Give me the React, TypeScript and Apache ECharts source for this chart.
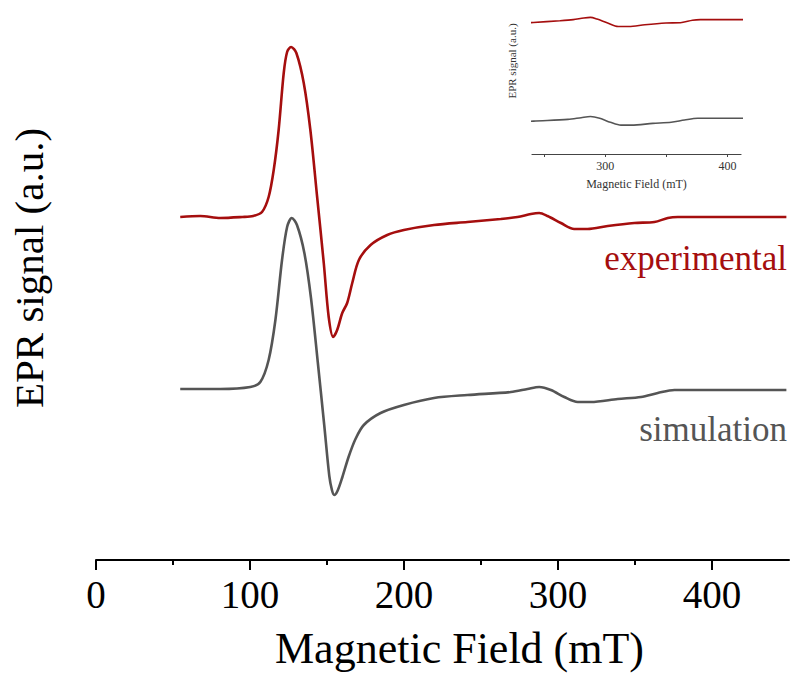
import React, { useEffect, useRef } from "react";
import * as echarts from "echarts";

// Experimental EPR spectrum (field in mT, signal in a.u., stacked offset included)
const fieldExp = [54.7, 67.7, 80.7, 95.0, 102.1, 107.8, 112.1, 115.4, 118.6, 121.9, 124.1, 126.7, 130.1, 134.9, 139.2, 143.6, 147.9, 151.1, 154.0, 156.6, 159.9, 163.1, 166.4, 170.7, 178.3, 189.1, 199.9, 219.5, 241.2, 262.8, 273.7, 282.4, 287.8, 293.2, 301.9, 310.5, 319.2, 332.3, 349.6, 362.6, 371.3, 377.8, 414.6, 448.3];
const signalExp = [0.0, 0.01, -0.01, 0.0, 0.01, 0.05, 0.2, 0.47, 0.87, 1.44, 1.65, 1.7, 1.64, 1.34, 0.87, 0.2, -0.46, -1.0, -1.2, -1.13, -0.96, -0.86, -0.66, -0.43, -0.28, -0.18, -0.13, -0.08, -0.05, -0.02, 0.0, 0.03, 0.04, 0.01, -0.06, -0.12, -0.12, -0.09, -0.06, -0.05, -0.01, 0.0, 0.0, 0.0];

// Simulated EPR spectrum
const fieldSim = [54.7, 80.7, 100.2, 106.7, 112.1, 116.5, 120.8, 124.1, 127.1, 130.5, 135.3, 139.6, 144.0, 148.2, 151.5, 153.2, 154.7, 156.8, 160.0, 164.0, 168.5, 173.9, 184.8, 199.9, 219.5, 241.2, 269.4, 280.2, 287.8, 295.4, 304.1, 312.8, 321.4, 338.8, 353.9, 364.8, 375.6, 393.1, 448.3];
const signalSim = [-1.72, -1.72, -1.7, -1.65, -1.43, -1.03, -0.43, -0.1, -0.01, -0.08, -0.36, -0.81, -1.45, -2.08, -2.59, -2.73, -2.78, -2.74, -2.6, -2.4, -2.22, -2.08, -1.96, -1.88, -1.81, -1.78, -1.75, -1.72, -1.7, -1.73, -1.8, -1.85, -1.85, -1.82, -1.8, -1.76, -1.73, -1.73, -1.73];

const mainMajorTicks = [0, 100, 200, 300, 400];
const mainMinorTicks = [50, 150, 250, 350];
const insetTicks = [250, 300, 350, 400];
const insetLabels = [300, 400];

const RED = "#A50E0E";
const GRAY = "#555555";
const FONT = "'Liberation Serif', 'Times New Roman', serif";

export default function App() {
  const ref = useRef<HTMLDivElement>(null);
  useEffect(() => {
    document.body.style.margin = "0";
    if (!ref.current) return;
    const chart = echarts.init(ref.current, undefined, { renderer: "svg" });
    const exp = fieldExp.map((x, i) => [x, signalExp[i]]);
    const sim = fieldSim.map((x, i) => [x, signalSim[i]]);
    chart.setOption({
      animation: false,
      backgroundColor: "#ffffff",
      textStyle: { fontFamily: FONT },
      grid: [
        { left: 96, right: 2, top: 30, bottom: 121 },
        { left: 532, width: 209, top: 5, bottom: 527 },
      ],
      xAxis: [
        {
          type: "value",
          gridIndex: 0,
          position: "bottom",
          min: 0,
          max: 450,
          interval: 100,
          splitLine: { show: false },
          axisLine: { show: true, onZero: false, lineStyle: { color: "#000", width: 2 } },
          axisTick: { show: true, customValues: mainMajorTicks, length: 10, lineStyle: { color: "#000", width: 2 } },
          axisLabel: { customValues: mainMajorTicks, fontSize: 39, color: "#000", margin: 15, fontFamily: FONT },
          name: "Magnetic Field (mT)",
          nameLocation: "middle",
          nameGap: 66,
          nameTextStyle: { fontSize: 44, color: "#000", fontFamily: FONT, padding: [0, 0, 0, 34] },
        },
        {
          type: "value",
          gridIndex: 0,
          position: "bottom",
          min: 0,
          max: 450,
          interval: 50,
          splitLine: { show: false },
          axisLine: { show: false, onZero: false },
          axisTick: { show: true, customValues: mainMinorTicks, length: 5, lineStyle: { color: "#000", width: 2 } },
          axisLabel: { show: false },
        },
        {
          type: "value",
          gridIndex: 1,
          position: "bottom",
          min: 240,
          max: 411,
          splitLine: { show: false },
          axisLine: { show: true, onZero: false, lineStyle: { color: "#444", width: 1.2 } },
          axisTick: { show: true, customValues: insetTicks, length: 3, lineStyle: { color: "#444", width: 1 } },
          axisLabel: { customValues: insetLabels, fontSize: 12, color: "#333", margin: 6, fontFamily: FONT },
          name: "Magnetic Field (mT)",
          nameLocation: "middle",
          nameGap: 24,
          nameTextStyle: { fontSize: 12, color: "#333", fontFamily: FONT },
        },
      ],
      yAxis: [
        {
          type: "value",
          gridIndex: 0,
          min: -3.43,
          max: 1.87,
          show: false,
        },
        {
          type: "value",
          gridIndex: 1,
          min: -2.357,
          max: 0.257,
          show: false,
        },
      ],
      series: [
        {
          type: "line",
          name: "experimental",
          xAxisIndex: 0,
          yAxisIndex: 0,
          data: exp,
          smooth: 0.3,
          showSymbol: false,
          lineStyle: { color: RED, width: 2.6 },
          clip: true,
        },
        {
          type: "line",
          name: "simulation",
          xAxisIndex: 0,
          yAxisIndex: 0,
          data: sim,
          smooth: 0.3,
          showSymbol: false,
          lineStyle: { color: GRAY, width: 2.6 },
          clip: true,
        },
        {
          type: "line",
          name: "experimental inset",
          xAxisIndex: 2,
          yAxisIndex: 1,
          data: exp,
          smooth: 0.3,
          showSymbol: false,
          lineStyle: { color: RED, width: 1.6 },
          clip: true,
        },
        {
          type: "line",
          name: "simulation inset",
          xAxisIndex: 2,
          yAxisIndex: 1,
          data: sim,
          smooth: 0.3,
          showSymbol: false,
          lineStyle: { color: GRAY, width: 1.6 },
          clip: true,
        },
      ],
      graphic: [
        {
          type: "text",
          x: 29,
          y: 268,
          rotation: Math.PI / 2,
          style: { text: "EPR signal (a.u.)", font: `41px ${FONT}`, fill: "#000", align: "center", verticalAlign: "middle" },
        },
        {
          type: "text",
          x: 512,
          y: 61,
          rotation: Math.PI / 2,
          style: { text: "EPR signal (a.u.)", font: `11px ${FONT}`, fill: "#333", align: "center", verticalAlign: "middle" },
        },
        {
          type: "text",
          x: 787,
          y: 258,
          style: { text: "experimental", font: `35px ${FONT}`, fill: RED, align: "right", verticalAlign: "middle" },
        },
        {
          type: "text",
          x: 787,
          y: 429,
          style: { text: "simulation", font: `35px ${FONT}`, fill: GRAY, align: "right", verticalAlign: "middle" },
        },
      ],
    });
    return () => chart.dispose();
  }, []);
  return <div ref={ref} style={{ width: 791, height: 681 }} />;
}
